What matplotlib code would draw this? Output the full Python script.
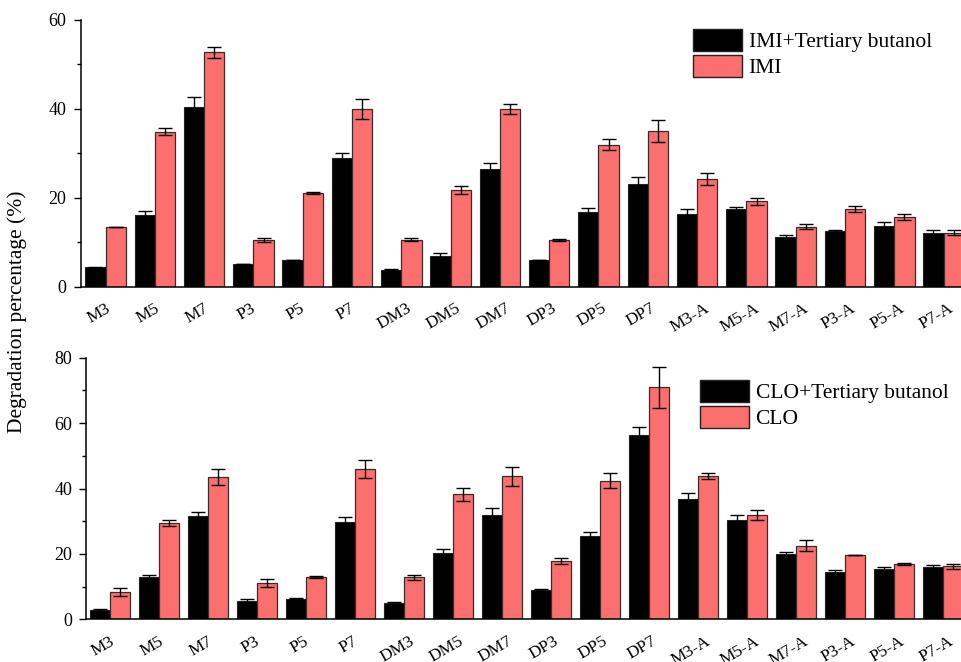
import matplotlib
matplotlib.use("Agg")
import matplotlib.pyplot as plt
import matplotlib.transforms as mtransforms
import numpy as np
from matplotlib.ticker import MultipleLocator

plt.rcParams['font.family'] = ['Liberation Serif', 'DejaVu Serif']

categories = ['M3', 'M5', 'M7', 'P3', 'P5', 'P7', 'DM3', 'DM5', 'DM7', 'DP3', 'DP5', 'DP7',
              'M3-A', 'M5-A', 'M7-A', 'P3-A', 'P5-A', 'P7-A']

imi_tb = [4.4, 16.05, 40.4, 5.1, 6.0, 28.9, 3.8, 6.9, 26.4, 6.0, 16.8, 23.1, 16.4, 17.5, 11.2, 12.5, 13.7, 12.1]
imi_tb_err = [0.1, 0.9, 2.3, 0.1, 0.1, 1.2, 0.1, 0.6, 1.35, 0.1, 0.8, 1.5, 1.0, 0.5, 0.45, 0.25, 0.75, 0.6]
imi = [13.35, 34.9, 52.7, 10.5, 21.15, 39.9, 10.6, 21.75, 40.0, 10.5, 31.9, 34.95, 24.2, 19.2, 13.5, 17.5, 15.75, 12.15]
imi_err = [0.0, 0.7, 1.3, 0.45, 0.2, 2.25, 0.35, 0.9, 1.2, 0.3, 1.25, 2.5, 1.35, 0.8, 0.55, 0.6, 0.7, 0.6]

clo_tb = [2.85, 12.95, 31.6, 5.6, 6.3, 29.65, 5.0, 20.3, 31.9, 8.97, 25.5, 56.35, 36.8, 30.5, 20.1, 14.5, 15.4, 15.9]
clo_tb_err = [0.2, 0.7, 1.2, 0.6, 0.2, 1.5, 0.2, 1.1, 2.0, 0.2, 1.1, 2.45, 1.8, 1.5, 0.6, 0.5, 0.5, 0.6]
clo = [8.45, 29.55, 43.5, 11.0, 12.85, 46.0, 12.85, 38.3, 43.8, 17.8, 42.4, 70.9, 43.9, 31.9, 22.5, 19.7, 17.0, 16.2]
clo_err = [1.2, 0.95, 2.4, 1.25, 0.3, 2.7, 0.85, 2.0, 2.9, 0.8, 2.3, 6.25, 0.85, 1.5, 1.6, 0.1, 0.3, 0.7]

PINK = '#FB6F6F'
W, H = 962, 662
fig = plt.figure(figsize=(W / 100, H / 100), dpi=100)


def px_axes(left, right, bottom_px, top_px):
    return fig.add_axes([left / W, 1 - bottom_px / H, (right - left) / W, (bottom_px - top_px) / H])


def draw(ax, tb, tb_err, base, base_err, ymax, major, labels, pitch, offset):
    x = np.arange(len(categories))
    bw = 0.41
    ekw = dict(ecolor='black', elinewidth=1.0, capsize=5, capthick=1.0)
    ax.bar(x - bw / 2, tb, bw, yerr=tb_err, color='black', edgecolor='#222222',
           linewidth=0.8, error_kw=ekw, label=labels[0])
    ax.bar(x + bw / 2, base, bw, yerr=base_err, color=PINK, edgecolor='#3a2a2a',
           linewidth=0.9, error_kw=ekw, label=labels[1])
    width_px = ax.get_position().width * W
    ax.set_xlim(-offset / pitch, -offset / pitch + width_px / pitch)
    ax.set_ylim(0, ymax)
    ax.yaxis.set_major_locator(MultipleLocator(major))
    ax.yaxis.set_minor_locator(MultipleLocator(major / 2))
    ax.set_xticks(x)
    ax.tick_params(axis='x', length=0, pad=10)
    ax.tick_params(axis='y', which='major', length=5, width=1, pad=5, labelsize=13)
    ax.tick_params(axis='y', which='minor', length=3, width=1)
    ax.set_xticklabels(categories, rotation=30, ha='center', fontsize=12.5)
    shift = mtransforms.ScaledTranslation(-7 / 100, 0, fig.dpi_scale_trans)
    for lab in ax.xaxis.get_majorticklabels():
        lab.set_transform(lab.get_transform() + shift)
    for s in ['top', 'right']:
        ax.spines[s].set_visible(False)
    for s in ['left', 'bottom']:
        ax.spines[s].set_linewidth(1.1)


ax1 = px_axes(80.5, 962, 286.7, 20)
draw(ax1, imi_tb, imi_tb_err, imi, imi_err, 60, 20,
     ['IMI+Tertiary butanol', 'IMI'], 49.3, 25)
ax2 = px_axes(86, 962, 619.3, 357.7)
draw(ax2, clo_tb, clo_tb_err, clo, clo_err, 80, 20,
     ['CLO+Tertiary butanol', 'CLO'], 49.0, 24)

leg_kw = dict(frameon=False, fontsize=15.5, handlelength=2.28, handleheight=1.2,
              handletextpad=0.3, labelspacing=0.12, borderpad=0, borderaxespad=0,
              loc='upper left')
l1 = ax1.legend(bbox_to_anchor=(693 / W, 1 - 29 / H), bbox_transform=fig.transFigure, **leg_kw)
l2 = ax2.legend(bbox_to_anchor=(700 / W, 1 - 380 / H), bbox_transform=fig.transFigure, **leg_kw)
for leg in (l1, l2):
    for h in leg.legend_handles:
        h.set_edgecolor('#222222')
        h.set_linewidth(1.0)

fig.text(17 / W, 1 - 312 / H, 'Degradation percentage (%)', rotation=90,
         ha='center', va='center', fontsize=15.5)

fig.savefig('out.png', dpi=100)
